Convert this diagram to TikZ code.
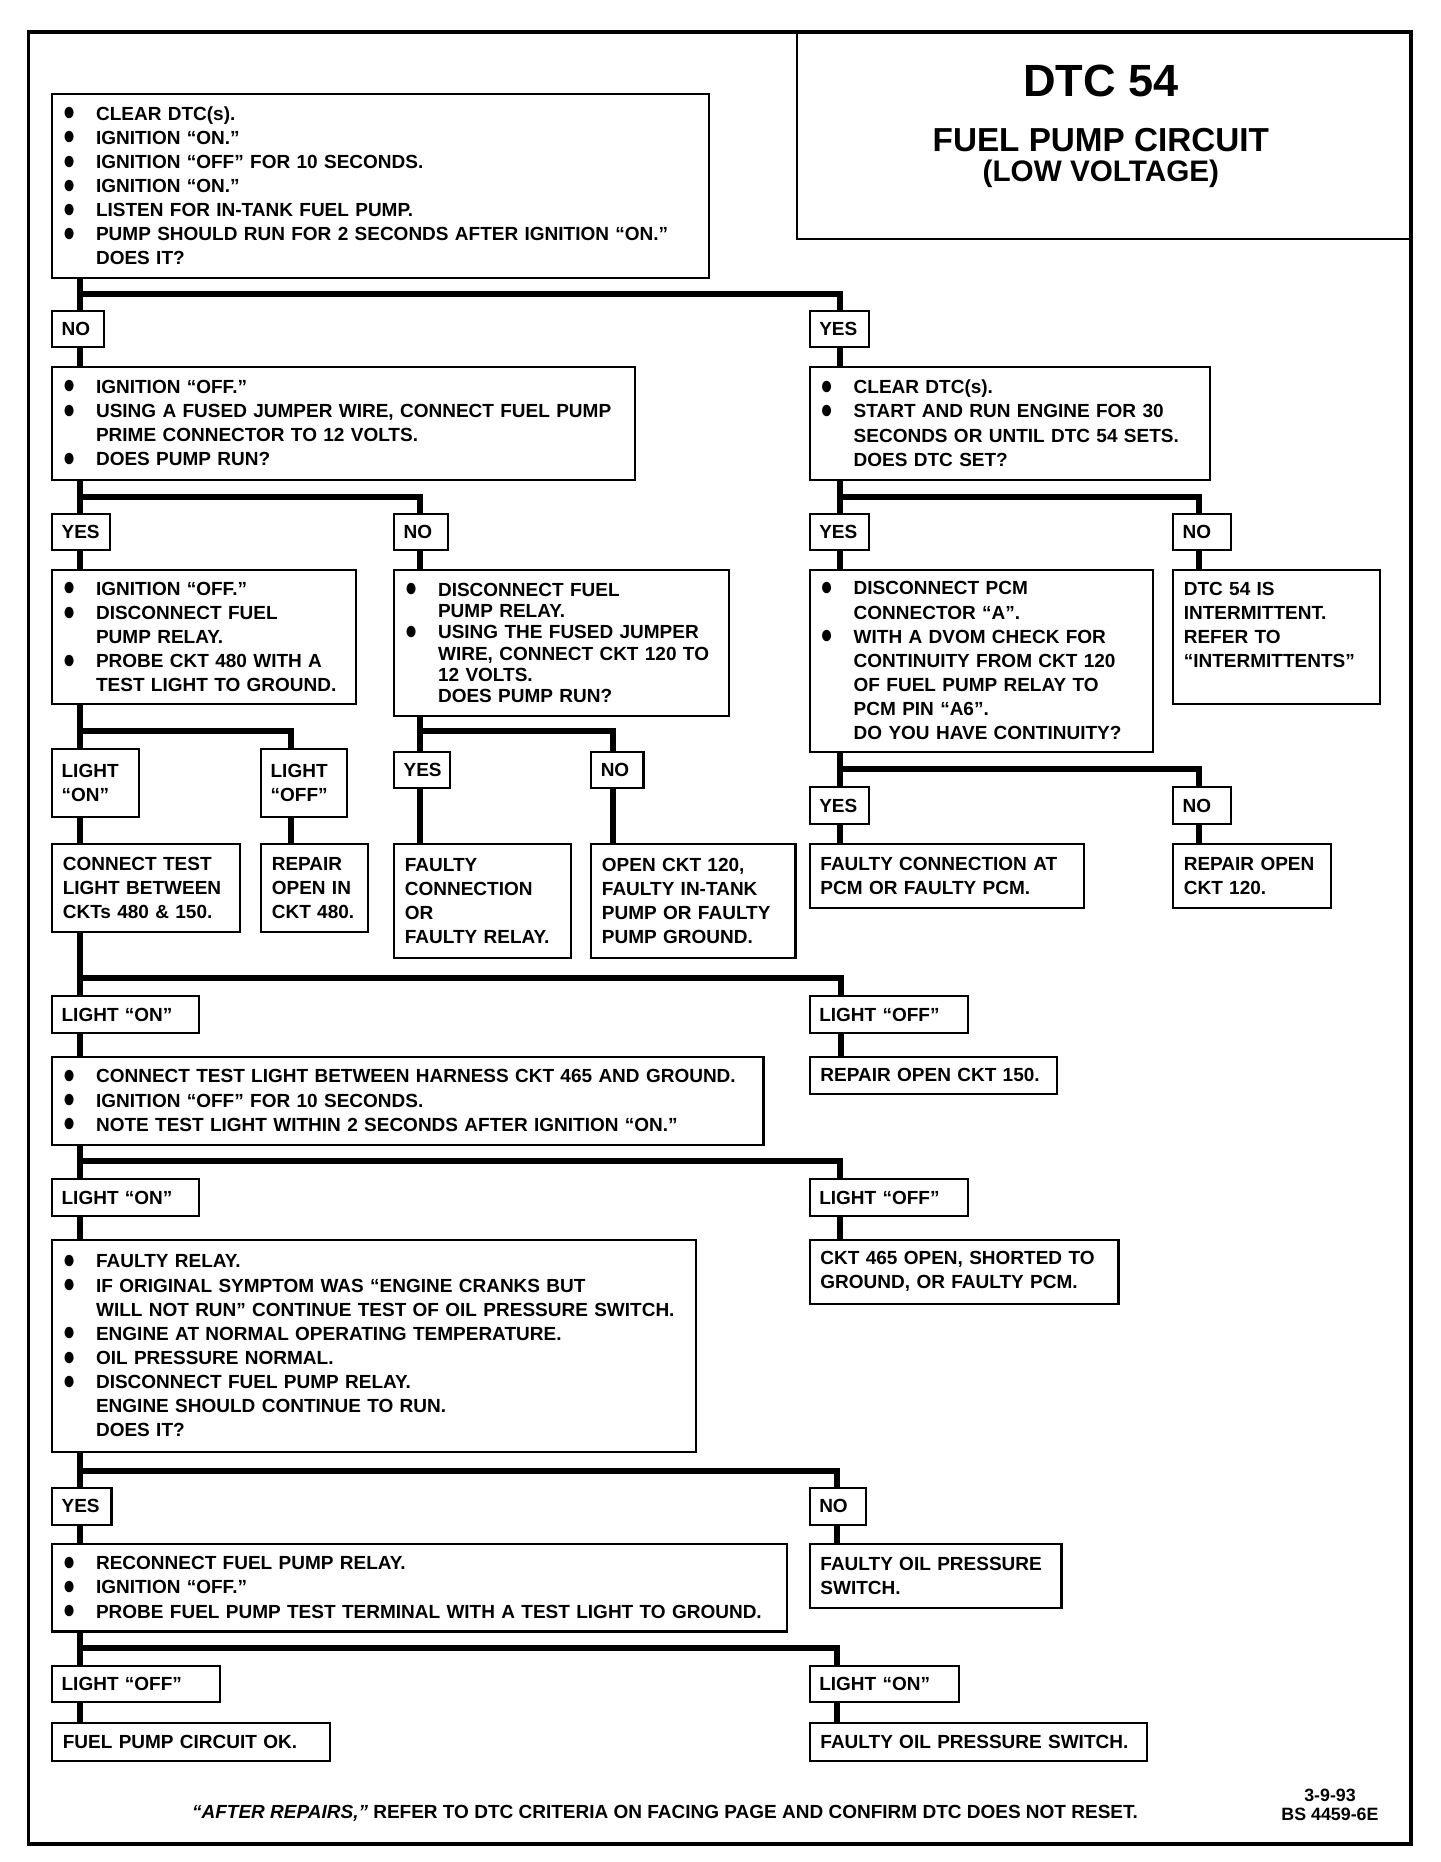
\documentclass[tikz,border=0pt]{standalone}
\usepackage{fontspec}
\setmainfont{Liberation Sans}

\newcommand{\bul}{\makebox[28pt][l]{\raisebox{-0.5pt}{\scalebox{1.1}[1.4]{●}}}}
\newcommand{\indline}{\hspace*{28pt}}

\tikzset{
  stepbox/.style={draw, line width=1.8pt, anchor=north west, inner xsep=9pt, inner ysep=0pt,
    align=left, font=\fontsize{16}{20.3}\selectfont\bfseries},
  answer/.style={stepbox, inner xsep=8pt},
  link/.style={line width=5pt}
}

\begin{document}
\begin{tikzpicture}[x=1pt, y=-1pt]
   \useasboundingbox (0,0) rectangle (1213,1568);
   \draw[line width=3pt] (24,27) rectangle (1188,1553);

   % title
   \node[draw, line width=1.8pt, anchor=north west, inner sep=0pt, minimum width=518pt, minimum height=173pt] (titlebox) at (670,27) {};
   \node[font=\fontsize{38}{40}\selectfont\bfseries] (title) at (927,68) {DTC 54};
   \node[font=\fontsize{28}{30}\selectfont\bfseries] (subtitle) at (927,118) {FUEL PUMP CIRCUIT};
   \node[font=\fontsize{25}{27}\selectfont\bfseries] (voltage) at (927,146) {(LOW VOLTAGE)};

   % steps
   \node[stepbox, minimum width=553pt, minimum height=155pt, text width=535pt] (clr) at (43,78)
     {\bul CLEAR DTC(s).\\ \bul IGNITION “ON.”\\ \bul IGNITION “OFF” FOR 10 SECONDS.\\ \bul IGNITION “ON.”\\
      \bul LISTEN FOR IN-TANK FUEL PUMP.\\ \bul PUMP SHOULD RUN FOR 2 SECONDS AFTER IGNITION “ON.”\\ \indline DOES IT?};
   \node[stepbox, minimum width=491pt, minimum height=95pt, text width=473pt] (jumper) at (43,308)
     {\bul IGNITION “OFF.”\\ \bul USING A FUSED JUMPER WIRE, CONNECT FUEL PUMP\\ \indline PRIME CONNECTOR TO 12 VOLTS.\\ \bul DOES PUMP RUN?};
   \node[stepbox, minimum width=337pt, minimum height=95pt, text width=319pt] (rundtc) at (681,308)
     {\bul CLEAR DTC(s).\\ \bul START AND RUN ENGINE FOR 30\\ \indline SECONDS OR UNTIL DTC 54 SETS.\\ \indline DOES DTC SET?};
   \node[stepbox, minimum width=256pt, minimum height=113pt, text width=238pt] (probe480) at (43,479)
     {\bul IGNITION “OFF.”\\ \bul DISCONNECT FUEL\\ \indline PUMP RELAY.\\ \bul PROBE CKT 480 WITH A\\ \indline TEST LIGHT TO GROUND.};
   \node[stepbox, minimum width=282pt, minimum height=123pt, text width=264pt, font=\fontsize{16}{18}\selectfont\bfseries] (relay) at (331,479)
     {\bul DISCONNECT FUEL\\ \indline PUMP RELAY.\\ \bul USING THE FUSED JUMPER\\ \indline WIRE, CONNECT CKT 120 TO\\ \indline 12 VOLTS.\\ \indline DOES PUMP RUN?};
   \node[stepbox, minimum width=289pt, minimum height=153pt, text width=271pt] (pcmcont) at (681,479)
     {\bul DISCONNECT PCM\\ \indline CONNECTOR “A”.\\ \bul WITH A DVOM CHECK FOR\\ \indline CONTINUITY FROM CKT 120\\ \indline OF FUEL PUMP RELAY TO\\ \indline PCM PIN “A6”.\\ \indline DO YOU HAVE CONTINUITY?};
   \node[stepbox, minimum width=174pt, minimum height=113pt, text width=156pt] (interm) at (987,479)
     {DTC 54 IS\\ INTERMITTENT.\\ REFER TO\\ “INTERMITTENTS”\\ \mbox{}};
   \node[stepbox, minimum width=158pt, minimum height=74pt, text width=140pt] (test150) at (43,710)
     {CONNECT TEST\\ LIGHT BETWEEN\\ CKTs 480 \& 150.};
   \node[stepbox, minimum width=90pt, minimum height=74pt, text width=72pt] (open480) at (219,710)
     {REPAIR\\ OPEN IN\\ CKT 480.};
   \node[stepbox, minimum width=149pt, minimum height=96pt, text width=131pt] (faultyrel) at (331,710)
     {FAULTY\\ CONNECTION\\ OR\\ FAULTY RELAY.};
   \node[stepbox, minimum width=172pt, minimum height=96pt, text width=154pt] (open120a) at (497,710)
     {OPEN CKT 120,\\ FAULTY IN-TANK\\ PUMP OR FAULTY\\ PUMP GROUND.};
   \node[stepbox, minimum width=231pt, minimum height=54pt, text width=213pt] (faultypcm) at (681,710)
     {FAULTY CONNECTION AT\\ PCM OR FAULTY PCM.};
   \node[stepbox, minimum width=133pt, minimum height=54pt, text width=115pt] (open120b) at (987,710)
     {REPAIR OPEN\\ CKT 120.};
   \node[stepbox, minimum width=599pt, minimum height=74pt, text width=581pt] (test465) at (43,889)
     {\bul CONNECT TEST LIGHT BETWEEN HARNESS CKT 465 AND GROUND.\\ \bul IGNITION “OFF” FOR 10 SECONDS.\\ \bul NOTE TEST LIGHT WITHIN 2 SECONDS AFTER IGNITION “ON.”};
   \node[stepbox, minimum width=208pt, minimum height=31pt, text width=190pt] (open150) at (681,889)
     {REPAIR OPEN CKT 150.};
   \node[stepbox, minimum width=542pt, minimum height=179pt, text width=524pt] (oilsw) at (43,1043)
     {\bul FAULTY RELAY.\\ \bul IF ORIGINAL SYMPTOM WAS “ENGINE CRANKS BUT\\ \indline WILL NOT RUN” CONTINUE TEST OF OIL PRESSURE SWITCH.\\
      \bul ENGINE AT NORMAL OPERATING TEMPERATURE.\\ \bul OIL PRESSURE NORMAL.\\ \bul DISCONNECT FUEL PUMP RELAY.\\
      \indline ENGINE SHOULD CONTINUE TO RUN.\\ \indline DOES IT?};
   \node[stepbox, minimum width=260pt, minimum height=54pt, text width=242pt] (ckt465) at (681,1043)
     {CKT 465 OPEN, SHORTED TO\\ GROUND, OR FAULTY PCM.};
   \node[stepbox, minimum width=619pt, minimum height=74pt, text width=601pt] (probeterm) at (43,1299)
     {\bul RECONNECT FUEL PUMP RELAY.\\ \bul IGNITION “OFF.”\\ \bul PROBE FUEL PUMP TEST TERMINAL WITH A TEST LIGHT TO GROUND.};
   \node[stepbox, minimum width=212pt, minimum height=54pt, text width=194pt] (faultyoil) at (681,1299)
     {FAULTY OIL PRESSURE\\ SWITCH.};
   \node[stepbox, minimum width=234pt, minimum height=32pt, text width=216pt] (pumpok) at (43,1450)
     {FUEL PUMP CIRCUIT OK.};
   \node[stepbox, minimum width=284pt, minimum height=32pt, text width=266pt] (faultyoil2) at (681,1450)
     {FAULTY OIL PRESSURE SWITCH.};

   % answers
   \node[answer, minimum width=44pt, minimum height=30pt, text width=28pt] (clr-no) at (43,261) {NO};
   \node[answer, minimum width=50pt, minimum height=30pt, text width=34pt] (clr-yes) at (681,261) {YES};
   \node[answer, minimum width=49pt, minimum height=30pt, text width=33pt] (jumper-yes) at (43,432) {YES};
   \node[answer, minimum width=45pt, minimum height=30pt, text width=29pt] (jumper-no) at (331,432) {NO};
   \node[answer, minimum width=50pt, minimum height=30pt, text width=34pt] (rundtc-yes) at (681,432) {YES};
   \node[answer, minimum width=49pt, minimum height=30pt, text width=33pt] (rundtc-no) at (987,432) {NO};
   \node[answer, minimum width=73pt, minimum height=57pt, text width=57pt] (probe-on) at (43,630) {LIGHT\\ “ON”};
   \node[answer, minimum width=72pt, minimum height=57pt, text width=56pt] (probe-off) at (219,630) {LIGHT\\ “OFF”};
   \node[answer, minimum width=47pt, minimum height=31pt, text width=31pt] (relay-yes) at (331,632) {YES};
   \node[answer, minimum width=44pt, minimum height=31pt, text width=28pt] (relay-no) at (497,632) {NO};
   \node[answer, minimum width=50pt, minimum height=31pt, text width=34pt] (pcm-yes) at (681,662) {YES};
   \node[answer, minimum width=49pt, minimum height=31pt, text width=33pt] (pcm-no) at (987,662) {NO};
   \node[answer, minimum width=124pt, minimum height=31pt, text width=108pt] (test150-on) at (43,838) {LIGHT “ON”};
   \node[answer, minimum width=133pt, minimum height=31pt, text width=117pt] (test150-off) at (681,838) {LIGHT “OFF”};
   \node[answer, minimum width=124pt, minimum height=31pt, text width=108pt] (test465-on) at (43,992) {LIGHT “ON”};
   \node[answer, minimum width=133pt, minimum height=31pt, text width=117pt] (test465-off) at (681,992) {LIGHT “OFF”};
   \node[answer, minimum width=50pt, minimum height=31pt, text width=34pt] (oil-yes) at (43,1252) {YES};
   \node[answer, minimum width=47pt, minimum height=31pt, text width=31pt] (oil-no) at (681,1252) {NO};
   \node[answer, minimum width=141pt, minimum height=30pt, text width=125pt] (term-off) at (43,1402) {LIGHT “OFF”};
   \node[answer, minimum width=126pt, minimum height=30pt, text width=110pt] (term-on) at (681,1402) {LIGHT “ON”};

   % branches
   \draw[link] ([xshift=24pt]clr.south west) -- ([xshift=24pt]clr-no.north west);
   \draw[link] ([xshift=24pt,yshift=-13pt]clr.south west) -| ([xshift=26pt]clr-yes.north west);
   \draw[link] ([xshift=24pt]clr-no.south west) -- ([xshift=24pt]jumper.north west);
   \draw[link] ([xshift=26pt]clr-yes.south west) -- ([xshift=26pt]rundtc.north west);

   \draw[link] ([xshift=24pt]jumper.south west) -- ([xshift=24pt]jumper-yes.north west);
   \draw[link] ([xshift=24pt,yshift=-14pt]jumper.south west) -| ([xshift=23pt]jumper-no.north west);
   \draw[link] ([xshift=24pt]jumper-yes.south west) -- ([xshift=24pt]probe480.north west);
   \draw[link] ([xshift=23pt]jumper-no.south west) -- ([xshift=23pt]relay.north west);

   \draw[link] ([xshift=26pt]rundtc.south west) -- ([xshift=26pt]rundtc-yes.north west);
   \draw[link] ([xshift=26pt,yshift=-14pt]rundtc.south west) -| ([xshift=23pt]rundtc-no.north west);
   \draw[link] ([xshift=26pt]rundtc-yes.south west) -- ([xshift=26pt]pcmcont.north west);
   \draw[link] ([xshift=23pt]rundtc-no.south west) -- ([xshift=23pt]interm.north west);

   \draw[link] ([xshift=24pt]probe480.south west) -- ([xshift=24pt]probe-on.north west);
   \draw[link] ([xshift=24pt,yshift=-22pt]probe480.south west) -| ([xshift=26pt]probe-off.north west);
   \draw[link] ([xshift=24pt]probe-on.south west) -- ([xshift=24pt]test150.north west);
   \draw[link] ([xshift=26pt]probe-off.south west) -- ([xshift=26pt]open480.north west);

   \draw[link] ([xshift=23pt]relay.south west) -- ([xshift=23pt]relay-yes.north west);
   \draw[link] ([xshift=23pt,yshift=-12pt]relay.south west) -| ([xshift=19pt]relay-no.north west);
   \draw[link] ([xshift=23pt]relay-yes.south west) -- ([xshift=23pt]faultyrel.north west);
   \draw[link] ([xshift=19pt]relay-no.south west) -- ([xshift=19pt]open120a.north west);

   \draw[link] ([xshift=26pt]pcmcont.south west) -- ([xshift=26pt]pcm-yes.north west);
   \draw[link] ([xshift=26pt,yshift=-14pt]pcmcont.south west) -| ([xshift=23pt]pcm-no.north west);
   \draw[link] ([xshift=26pt]pcm-yes.south west) -- ([xshift=26pt]faultypcm.north west);
   \draw[link] ([xshift=23pt]pcm-no.south west) -- ([xshift=23pt]open120b.north west);

   \draw[link] ([xshift=24pt]test150.south west) -- ([xshift=24pt]test150-on.north west);
   \draw[link] ([xshift=24pt,yshift=-38pt]test150.south west) -| ([xshift=27pt]test150-off.north west);
   \draw[link] ([xshift=24pt]test150-on.south west) -- ([xshift=24pt]test465.north west);
   \draw[link] ([xshift=27pt]test150-off.south west) -- ([xshift=27pt]open150.north west);

   \draw[link] ([xshift=24pt]test465.south west) -- ([xshift=24pt]test465-on.north west);
   \draw[link] ([xshift=24pt,yshift=-13pt]test465.south west) -| ([xshift=26pt]test465-off.north west);
   \draw[link] ([xshift=24pt]test465-on.south west) -- ([xshift=24pt]oilsw.north west);
   \draw[link] ([xshift=26pt]test465-off.south west) -- ([xshift=26pt]ckt465.north west);

   \draw[link] ([xshift=24pt]oilsw.south west) -- ([xshift=24pt]oil-yes.north west);
   \draw[link] ([xshift=24pt,yshift=-15pt]oilsw.south west) -| ([xshift=24pt]oil-no.north west);
   \draw[link] ([xshift=24pt]oil-yes.south west) -- ([xshift=24pt]probeterm.north west);
   \draw[link] ([xshift=24pt]oil-no.south west) -- ([xshift=24pt]faultyoil.north west);

   \draw[link] ([xshift=24pt]probeterm.south west) -- ([xshift=24pt]term-off.north west);
   \draw[link] ([xshift=24pt,yshift=-13pt]probeterm.south west) -| ([xshift=24pt]term-on.north west);
   \draw[link] ([xshift=24pt]term-off.south west) -- ([xshift=24pt]pumpok.north west);
   \draw[link] ([xshift=24pt]term-on.south west) -- ([xshift=24pt]faultyoil2.north west);

   % footer
   \node[font=\fontsize{16}{18}\selectfont\bfseries] (note) at (560,1527)
     {\textit{“AFTER REPAIRS,”} REFER TO DTC CRITERIA ON FACING PAGE AND CONFIRM DTC DOES NOT RESET.};
   \node[align=center, font=\fontsize{15}{16}\selectfont\bfseries] (figcode) at (1120,1520) {3-9-93\\ BS 4459-6E};
\end{tikzpicture}
\end{document}
